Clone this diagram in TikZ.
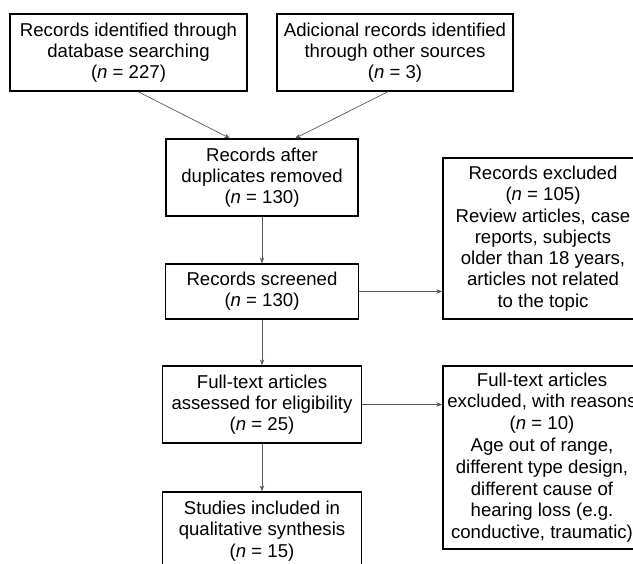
\documentclass[tikz,border=0pt]{standalone}
\usepackage{fontspec}
\setmainfont{Liberation Sans}
\usetikzlibrary{arrows.meta}
\tikzset{
  box/.style={draw,line width=1.3pt,align=center,inner sep=0pt,
    font=\fontsize{18.6}{21.3}\selectfont},
  link/.style={draw=black!65,line width=0.7pt,-{Stealth[length=6pt,width=4.5pt]}}
}
\begin{document}
\begin{tikzpicture}[x=1pt,y=-1pt]
  \path[use as bounding box,clip] (0,0) rectangle (633,564);
  % identification
  \node[box,minimum width=237pt,minimum height=77pt] (found) at (128.5,52.5)
    {Records identified through\\database searching\\(\textit{n} = 227)};
  \node[box,minimum width=236pt,minimum height=77pt] (other) at (395,52.5)
    {Adicional records identified\\through other sources\\(\textit{n} = 3)};
  % screening
  \node[box,minimum width=192pt,minimum height=77pt] (dupl) at (262,177.5)
    {Records after\\duplicates removed\\(\textit{n} = 130)};
  \node[box,minimum width=193pt,minimum height=55pt] (screen) at (262,291.5)
    {Records screened\\(\textit{n} = 130)};
  \node[box,minimum width=200pt,minimum height=161pt] (excl) at (543,238.5)
    {Records excluded\\(\textit{n} = 105)\\Review articles, case\\reports, subjects\\older than 18 years,\\articles not related\\to the topic};
  % eligibility
  \node[box,minimum width=199pt,minimum height=77pt] (full) at (262,404.5)
    {Full-text articles\\assessed for eligibility\\(\textit{n} = 25)};
  \node[box,minimum width=198pt,minimum height=183pt,
    font=\fontsize{18.6}{21.8}\selectfont] (fullexcl) at (542,457.5)
    {Full-text articles\\excluded, with reasons\\(\textit{n} = 10)\\Age out of range,\\different type design,\\different cause of\\hearing loss (e.g.\\conductive, traumatic)};
  % included
  \node[box,minimum width=199pt,minimum height=78pt] (incl) at (262,531)
    {Studies included in\\qualitative synthesis\\(\textit{n} = 15)};
  % arrows
  \draw[link] ([xshift=9.5pt]found.south) -- ([xshift=-32pt]dupl.north);
  \draw[link] ([xshift=-7pt]other.south) -- ([xshift=33pt]dupl.north);
  \draw[link] (dupl) -- (screen);
  \draw[link] (screen) -- (excl.west |- screen);
  \draw[link] (screen) -- (full);
  \draw[link] (full) -- (fullexcl.west |- full);
  \draw[link] (full) -- (incl);
\end{tikzpicture}
\end{document}
